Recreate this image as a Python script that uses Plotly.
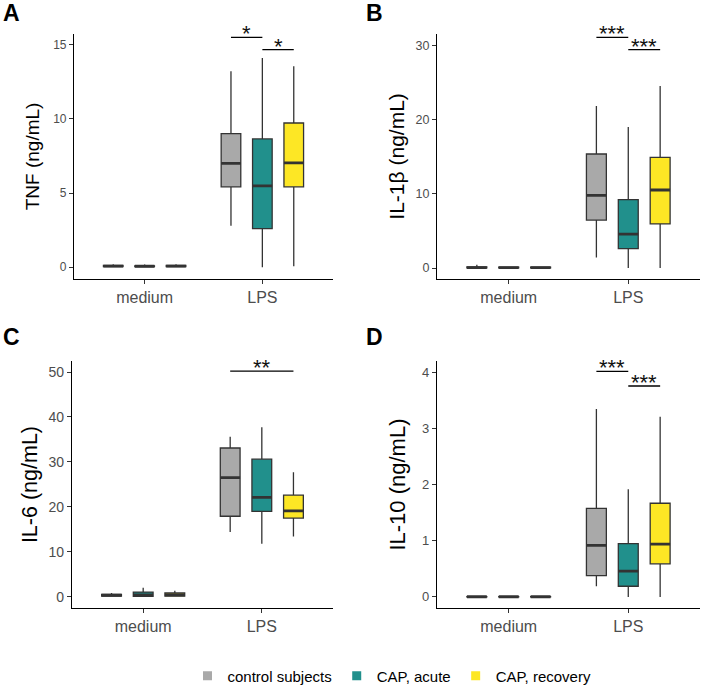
import plotly.graph_objects as go
from plotly.subplots import make_subplots

# groups and stimulation conditions
groups = ["control subjects", "CAP, acute", "CAP, recovery"]
colors = ["#A9A9A9", "#21908C", "#FDE725"]
stimuli = ["medium", "LPS"]

# box statistics, one row per group: [medium, LPS]
tnf_low = [[0.02, 2.8], [0.02, 0.0], [0.02, 0.07]]
tnf_q1 = [[0.04, 5.42], [0.04, 2.6], [0.04, 5.42]]
tnf_med = [[0.08, 7.0], [0.07, 5.48], [0.08, 7.04]]
tnf_q3 = [[0.12, 9.0], [0.10, 8.65], [0.12, 9.72]]
tnf_high = [[0.2, 13.2], [0.18, 14.1], [0.2, 13.55]]

il1b_low = [[0.0, 1.42], [0.0, 0.0], [0.0, 0.0]]
il1b_q1 = [[0.02, 6.46], [0.02, 2.6], [0.01, 5.93]]
il1b_med = [[0.06, 9.78], [0.05, 4.56], [0.04, 10.5]]
il1b_q3 = [[0.15, 15.35], [0.12, 9.2], [0.1, 14.9]]
il1b_high = [[0.45, 21.8], [0.2, 19.0], [0.15, 24.5]]

il6_low = [[0.0, 14.4], [0.0, 11.8], [0.0, 13.4]]
il6_q1 = [[0.1, 17.9], [0.05, 19.0], [0.1, 17.5]]
il6_med = [[0.3, 26.5], [0.4, 22.1], [0.4, 19.1]]
il6_q3 = [[0.5, 33.1], [1.0, 30.6], [0.8, 22.6]]
il6_high = [[0.8, 35.6], [2.0, 37.7], [1.3, 27.7]]

il10_low = [[0.0, 0.19], [0.0, 0.0], [0.0, 0.0]]
il10_q1 = [[0.0, 0.38], [0.0, 0.19], [0.0, 0.59]]
il10_med = [[0.003, 0.92], [0.003, 0.46], [0.003, 0.94]]
il10_q3 = [[0.006, 1.58], [0.006, 0.95], [0.006, 1.67]]
il10_high = [[0.01, 3.35], [0.01, 1.92], [0.01, 3.21]]

# significance brackets in the LPS condition: (group a, group b, y, label)
tnf_sig = [(0, 1, 15.49, "*"), (1, 2, 14.66, "*")]
il1b_sig = [(0, 1, 31.06, "***"), (1, 2, 29.4, "***")]
il6_sig = [(0, 2, 50.2, "**")]
il10_sig = [(0, 1, 4.02, "***"), (1, 2, 3.76, "***")]

panels = [
    dict(letter="A", title="TNF (ng/mL)", low=tnf_low, q1=tnf_q1, med=tnf_med, q3=tnf_q3,
         high=tnf_high, sig=tnf_sig, rng=[-0.8, 15.74], dtick=5),
    dict(letter="B", title="IL-1β (ng/mL)", low=il1b_low, q1=il1b_q1, med=il1b_med, q3=il1b_q3,
         high=il1b_high, sig=il1b_sig, rng=[-1.5, 31.55], dtick=10),
    dict(letter="C", title="IL-6 (ng/mL)", low=il6_low, q1=il6_q1, med=il6_med, q3=il6_q3,
         high=il6_high, sig=il6_sig, rng=[-2.49, 52.4], dtick=10),
    dict(letter="D", title="IL-10 (ng/mL)", low=il10_low, q1=il10_q1, med=il10_med, q3=il10_q3,
         high=il10_high, sig=il10_sig, rng=[-0.194, 4.2], dtick=1),
]

W, H = 709, 693
FONT = "Liberation Sans, Arial, sans-serif"
BOXGAP = 0.2
BOXGROUPGAP = 0.375

# plot areas in pixels: (left, right, top, bottom)
areas = [(74, 333, 34, 282), (437, 700, 34, 282), (72, 333, 365, 614), (437, 700, 365, 614)]
letter_pos = [(1, 13.5), (364, 13.5), (1, 340), (364, 340.5)]
title_sizes = [19, 21, 21.5, 22]
tick_sizes = [12, 12.5, 14, 13]
standoffs = [8, 5, 4, 10]

fig = make_subplots(rows=2, cols=2)

for p_i, p in enumerate(panels):
    row, col = p_i // 2 + 1, p_i % 2 + 1
    for g in range(3):
        fig.add_trace(go.Box(
            x=stimuli, q1=p["q1"][g], median=p["med"][g], q3=p["q3"][g],
            lowerfence=p["low"][g], upperfence=p["high"][g],
            name=groups[g], offsetgroup=str(g), fillcolor=colors[g],
            line=dict(color="#333333", width=1.3), whiskerwidth=0,
            boxpoints=False, showlegend=False,
        ), row=row, col=col)
        # thicker median line, ggplot style
        fig.add_trace(go.Box(
            x=stimuli, q1=p["med"][g], median=p["med"][g], q3=p["med"][g],
            lowerfence=p["med"][g], upperfence=p["med"][g],
            name=groups[g], offsetgroup=str(g), fillcolor="rgba(0,0,0,0)",
            line=dict(color="#333333", width=2.8), whiskerwidth=0,
            boxpoints=False, showlegend=False, hoverinfo="skip",
        ), row=row, col=col)

    xa = "x" if p_i == 0 else "x%d" % (p_i + 1)
    ya = "y" if p_i == 0 else "y%d" % (p_i + 1)
    step = (1 - BOXGAP) / 3
    lps = stimuli.index("LPS")
    for a, b, yv, lab in p["sig"]:
        xa0 = lps + (a - 1) * step
        xb0 = lps + (b - 1) * step
        fig.add_shape(type="line", xref=xa, yref=ya, x0=xa0, x1=xb0, y0=yv, y1=yv,
                      line=dict(color="black", width=1.3))
        fig.add_annotation(xref=xa, yref=ya, x=(xa0 + xb0) / 2, y=yv, text=lab,
                           showarrow=False, yanchor="bottom", yshift=-11,
                           font=dict(size=22, color="#111111", family=FONT))

    l, r, t, b = areas[p_i]
    fig.update_xaxes(domain=[l / W, r / W], range=[-0.6, 1.6], type="category",
                     categoryorder="array", categoryarray=stimuli, automargin=False,
                     showline=True, linecolor="black", linewidth=1.2,
                     ticks="outside", ticklen=4, tickcolor="#333333",
                     tickfont=dict(size=16, color="#4D4D4D", family=FONT),
                     showgrid=False, zeroline=False, row=row, col=col)
    fig.update_yaxes(domain=[1 - b / H, 1 - t / H], range=p["rng"], dtick=p["dtick"], tick0=0,
                     automargin=False,
                     showline=True, linecolor="black", linewidth=1.2,
                     ticks="outside", ticklen=4, tickcolor="#333333",
                     tickfont=dict(size=tick_sizes[p_i], color="#4D4D4D", family=FONT),
                     title_text=p["title"], title_standoff=standoffs[p_i],
                     title_font=dict(size=title_sizes[p_i], color="black", family=FONT),
                     showgrid=False, zeroline=False, row=row, col=col)

    lx, ly = letter_pos[p_i]
    fig.add_annotation(xref="paper", yref="paper", x=lx / W, y=1 - ly / H,
                       xanchor="left", yanchor="middle", text="<b>%s</b>" % p["letter"],
                       showarrow=False, font=dict(size=23, color="black", family=FONT))

# legend entries
for g in range(3):
    fig.add_trace(go.Scatter(x=[None], y=[None], mode="markers", name=groups[g],
                             marker=dict(symbol="square", size=9, color=colors[g])))

fig.update_layout(
    width=W, height=H,
    margin=dict(l=0, r=0, t=0, b=0),
    paper_bgcolor="white", plot_bgcolor="white",
    boxmode="group", boxgap=BOXGAP, boxgroupgap=BOXGROUPGAP,
    font=dict(family=FONT),
    legend=dict(orientation="h", x=392 / W, xanchor="center", y=1 - 683 / H, yanchor="middle",
                font=dict(size=15, color="black", family=FONT), itemwidth=30,
                tracegroupgap=0),
)

# the page body has a default 8px margin; drop it so the figure fills the window
fig.write_html("out.html", config={"displayModeBar": False},
               post_script="document.body.style.margin='0';")
